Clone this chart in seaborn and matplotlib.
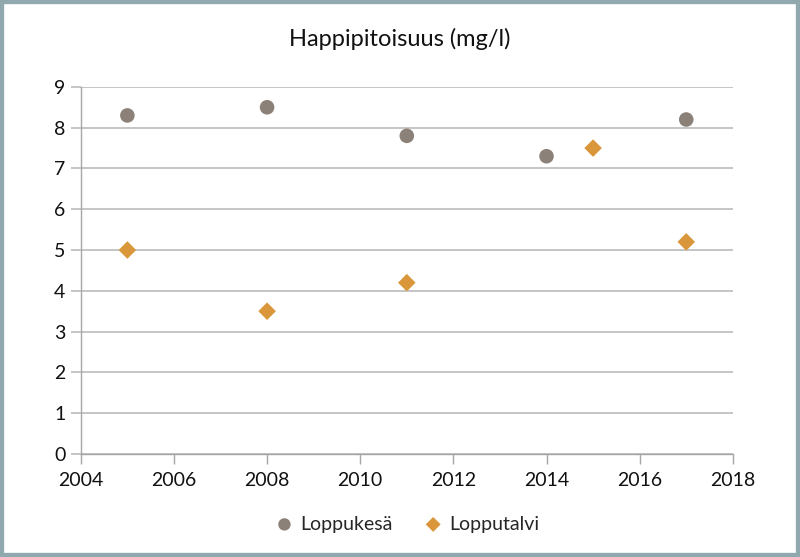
import pandas as pd
import numpy as np
import matplotlib
matplotlib.use('Agg')
import matplotlib.pyplot as plt
import seaborn as sns
from matplotlib.patches import Rectangle

# Data
years_summer = [2005, 2008, 2011, 2014, 2017]
oxygen_summer = [8.3, 8.5, 7.8, 7.3, 8.2]
years_winter = [2005, 2008, 2011, 2015, 2017]
oxygen_winter = [5.0, 3.5, 4.2, 7.5, 5.2]
series_names = ['Loppukesä', 'Lopputalvi']

df = pd.DataFrame({
    'year': years_summer + years_winter,
    'oxygen': oxygen_summer + oxygen_winter,
    'series': [series_names[0]] * len(years_summer) + [series_names[1]] * len(years_winter),
})

sns.set_style('white')
plt.rcParams['font.family'] = ['Lato', 'DejaVu Sans']

fig = plt.figure(figsize=(8, 5.57), dpi=100)
ax = fig.add_axes([0.101, 0.185, 0.815, 0.659])

palette = {series_names[0]: '#8b8178', series_names[1]: '#d9963a'}
markers = {series_names[0]: 'o', series_names[1]: 'D'}
sizes = {series_names[0]: 110, series_names[1]: 80}

for name in series_names:
    sub = df[df['series'] == name]
    sns.scatterplot(data=sub, x='year', y='oxygen', ax=ax, color=palette[name],
                    marker=markers[name], s=sizes[name], edgecolor='none',
                    label=name, zorder=3)

ax.set_xlim(2004, 2018)
ax.set_ylim(0, 9)
ax.set_xticks(np.arange(2004, 2019, 2))
ax.set_yticks(np.arange(0, 10, 1))
ax.yaxis.grid(True, color='#c0c0c0', linewidth=1.3)
ax.set_axisbelow(True)
ax.set_xlabel('')
ax.set_ylabel('')

for side in ['top', 'right']:
    ax.spines[side].set_visible(False)
for side in ['left', 'bottom']:
    ax.spines[side].set_color('#a6a6a6')
    ax.spines[side].set_linewidth(1.0)

ax.tick_params(axis='x', direction='out', length=7, width=1, color='#a6a6a6',
               labelsize=14, labelcolor='#111111', pad=6, bottom=True)
ax.tick_params(axis='y', direction='out', length=7, width=1.3, color='#c0c0c0',
               labelsize=14, labelcolor='#111111', pad=4, left=True)

fig.suptitle('Happipitoisuus (mg/l)', x=0.5, y=0.95, fontsize=17, color='#111111')

ax.legend(loc='upper center', bbox_to_anchor=(0.5, -0.12), ncol=2, frameon=False,
          fontsize=14, handlelength=1.0, handletextpad=0.3, columnspacing=1.6,
          markerscale=0.85)

# outer frame like the reference
fig.patches.append(Rectangle((0, 0), 1, 1, transform=fig.transFigure, fill=False,
                             edgecolor='#8fa9ae', linewidth=6, zorder=10))

plt.savefig('out.png', dpi=100)
